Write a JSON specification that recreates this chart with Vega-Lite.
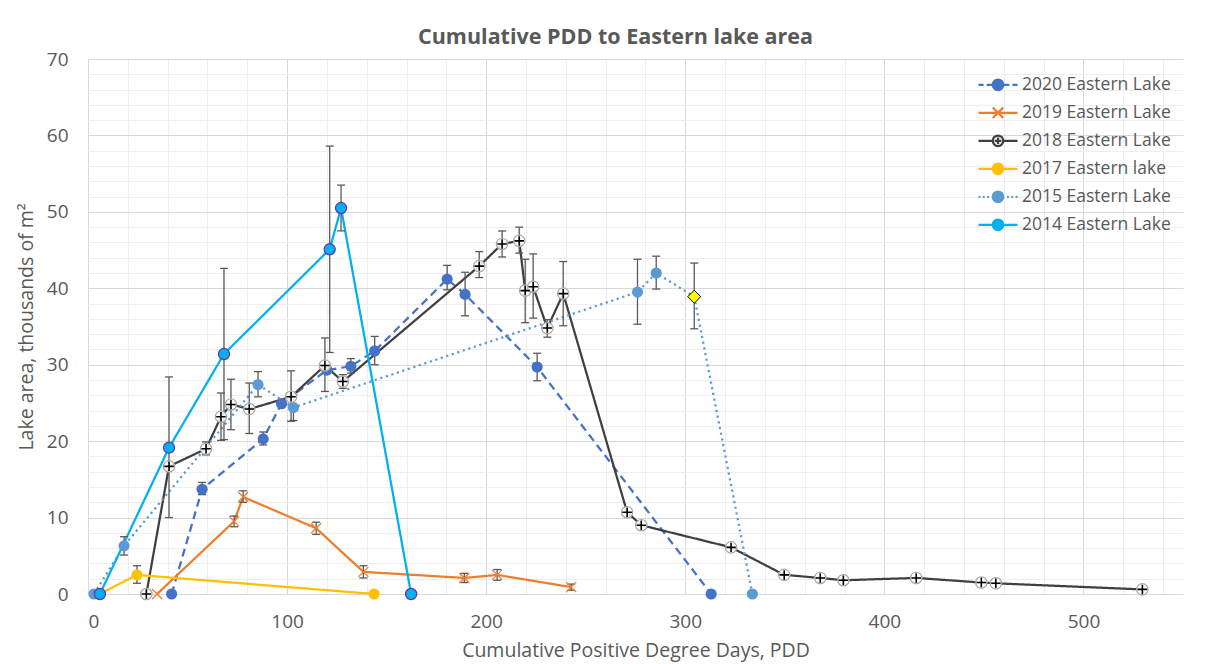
{
  "$schema": "https://vega.github.io/schema/vega-lite/v6.json",
  "width": 1095,
  "height": 535,
  "autosize": {"type": "none"},
  "padding": {"left": 88, "top": 59, "right": 37, "bottom": 70},
  "background": "white",
  "title": {"text": "Cumulative PDD to Eastern lake area", "font": "Open Sans", "fontSize": 21.5, "fontWeight": "bold", "color": "#595959", "offset": 2, "dx": -20},
  "config": {"view": {"stroke": null}, "font": "Open Sans"},
  "datasets": {
    "pts": [
      {"s": "2020 Eastern Lake", "x": 42, "y": 0},
      {"s": "2020 Eastern Lake", "x": 57.3, "y": 13.7, "lo": 13.0, "hi": 14.6},
      {"s": "2020 Eastern Lake", "x": 88, "y": 20.3, "lo": 19.5, "hi": 21.2},
      {"s": "2020 Eastern Lake", "x": 97.2, "y": 24.9},
      {"s": "2020 Eastern Lake", "x": 120, "y": 29.3},
      {"s": "2020 Eastern Lake", "x": 132, "y": 29.8, "lo": 28.9, "hi": 30.8},
      {"s": "2020 Eastern Lake", "x": 144, "y": 31.8, "lo": 30.0, "hi": 33.7},
      {"s": "2020 Eastern Lake", "x": 180.4, "y": 41.2, "lo": 39.8, "hi": 43.0},
      {"s": "2020 Eastern Lake", "x": 189.4, "y": 39.2, "lo": 36.4, "hi": 42.1},
      {"s": "2020 Eastern Lake", "x": 225.6, "y": 29.7, "lo": 27.9, "hi": 31.5},
      {"s": "2020 Eastern Lake", "x": 313, "y": 0},
      {"s": "2019 Eastern Lake", "x": 34.7, "y": 0},
      {"s": "2019 Eastern Lake", "x": 73.4, "y": 9.5, "lo": 8.8, "hi": 10.2},
      {"s": "2019 Eastern Lake", "x": 77.9, "y": 12.7, "lo": 12.0, "hi": 13.5},
      {"s": "2019 Eastern Lake", "x": 114.6, "y": 8.6, "lo": 7.8, "hi": 9.4},
      {"s": "2019 Eastern Lake", "x": 138.3, "y": 2.9, "lo": 2.1, "hi": 3.7},
      {"s": "2019 Eastern Lake", "x": 189, "y": 2.1, "lo": 1.5, "hi": 2.7},
      {"s": "2019 Eastern Lake", "x": 205.5, "y": 2.5, "lo": 1.8, "hi": 3.2},
      {"s": "2019 Eastern Lake", "x": 242.7, "y": 0.9, "lo": 0.5, "hi": 1.3},
      {"s": "2018 Eastern Lake", "x": 29.3, "y": 0},
      {"s": "2018 Eastern Lake", "x": 40.7, "y": 16.7},
      {"s": "2018 Eastern Lake", "x": 59.3, "y": 19.0, "lo": 18.2, "hi": 19.9},
      {"s": "2018 Eastern Lake", "x": 66.8, "y": 23.2, "lo": 20.1, "hi": 26.3},
      {"s": "2018 Eastern Lake", "x": 71.8, "y": 24.8, "lo": 21.5, "hi": 28.1},
      {"s": "2018 Eastern Lake", "x": 81, "y": 24.2, "lo": 21.0, "hi": 27.6},
      {"s": "2018 Eastern Lake", "x": 102, "y": 25.8, "lo": 22.6, "hi": 29.2},
      {"s": "2018 Eastern Lake", "x": 119, "y": 29.9, "lo": 26.5, "hi": 33.5},
      {"s": "2018 Eastern Lake", "x": 128, "y": 27.8, "lo": 26.9, "hi": 28.7},
      {"s": "2018 Eastern Lake", "x": 196.5, "y": 42.9, "lo": 41.4, "hi": 44.8},
      {"s": "2018 Eastern Lake", "x": 208, "y": 45.8, "lo": 44.1, "hi": 47.5},
      {"s": "2018 Eastern Lake", "x": 216.6, "y": 46.2, "lo": 44.6, "hi": 48.0},
      {"s": "2018 Eastern Lake", "x": 219.6, "y": 39.7, "lo": 35.5, "hi": 43.8},
      {"s": "2018 Eastern Lake", "x": 223.6, "y": 40.2, "lo": 36.1, "hi": 44.5},
      {"s": "2018 Eastern Lake", "x": 230.7, "y": 34.8, "lo": 33.6, "hi": 35.9},
      {"s": "2018 Eastern Lake", "x": 238.7, "y": 39.3, "lo": 35.1, "hi": 43.5},
      {"s": "2018 Eastern Lake", "x": 270.8, "y": 10.7},
      {"s": "2018 Eastern Lake", "x": 277.9, "y": 9.0},
      {"s": "2018 Eastern Lake", "x": 323, "y": 6.1},
      {"s": "2018 Eastern Lake", "x": 349.7, "y": 2.5},
      {"s": "2018 Eastern Lake", "x": 367.8, "y": 2.1},
      {"s": "2018 Eastern Lake", "x": 379.4, "y": 1.8},
      {"s": "2018 Eastern Lake", "x": 416, "y": 2.1},
      {"s": "2018 Eastern Lake", "x": 448.7, "y": 1.5},
      {"s": "2018 Eastern Lake", "x": 456, "y": 1.4},
      {"s": "2018 Eastern Lake", "x": 529.6, "y": 0.6},
      {"s": "2017 Eastern lake", "x": 5.8, "y": 0},
      {"s": "2017 Eastern lake", "x": 24.6, "y": 2.5, "lo": 1.4, "hi": 3.7},
      {"s": "2017 Eastern lake", "x": 143.7, "y": 0},
      {"s": "2015 Eastern Lake", "x": 3, "y": 0},
      {"s": "2015 Eastern Lake", "x": 18.1, "y": 6.3, "lo": 5.1, "hi": 7.5},
      {"s": "2015 Eastern Lake", "x": 85.4, "y": 27.4, "lo": 25.8, "hi": 29.1},
      {"s": "2015 Eastern Lake", "x": 103.2, "y": 24.4, "lo": 22.7, "hi": 26.1},
      {"s": "2015 Eastern Lake", "x": 276, "y": 39.5, "lo": 35.3, "hi": 43.8},
      {"s": "2015 Eastern Lake", "x": 285.4, "y": 42.0, "lo": 39.9, "hi": 44.2},
      {"s": "2015 Eastern Lake", "x": 304.5, "y": 38.9, "lo": 34.7, "hi": 43.3},
      {"s": "2015 Eastern Lake", "x": 333.7, "y": 0},
      {"s": "2014 Eastern Lake", "x": 6, "y": 0},
      {"s": "2014 Eastern Lake", "x": 40.7, "y": 19.15, "lo": 10.0, "hi": 28.4},
      {"s": "2014 Eastern Lake", "x": 68.3, "y": 31.4, "lo": 20.2, "hi": 42.6},
      {"s": "2014 Eastern Lake", "x": 121.4, "y": 45.1, "lo": 31.6, "hi": 58.6},
      {"s": "2014 Eastern Lake", "x": 127.1, "y": 50.5, "lo": 47.5, "hi": 53.5},
      {"s": "2014 Eastern Lake", "x": 162.3, "y": 0}
    ]
  },
  "data": {"name": "pts"},
  "resolve": {"axis": {"x": "independent", "y": "independent"}},
  "layer": [
    {
      "mark": {"type": "line", "strokeWidth": 2.25},
      "encoding": {
        "x": {"field": "x", "type": "quantitative", "scale": {"domain": [0, 550], "nice": false},
          "axis": {"orient": "bottom", "values": [20,40,60,80,120,140,160,180,220,240,260,280,320,340,360,380,420,440,460,480,520,540], "grid": true, "gridColor": "#eeeeee", "gridWidth": 1, "labels": false, "ticks": false, "domain": false, "title": null}},
        "y": {"field": "y", "type": "quantitative", "scale": {"domain": [0, 70], "nice": false},
          "axis": {"orient": "left", "values": [2,4,6,8,12,14,16,18,22,24,26,28,32,34,36,38,42,44,46,48,52,54,56,58,62,64,66,68], "grid": true, "gridColor": "#eeeeee", "gridWidth": 1, "labels": false, "ticks": false, "domain": false, "title": null}},
        "color": {"field": "s", "type": "nominal", "scale": {"domain": ["2014 Eastern Lake", "2015 Eastern Lake", "2017 Eastern lake", "2018 Eastern Lake", "2019 Eastern Lake", "2020 Eastern Lake"], "range": ["#00B0F0", "#5B9BD5", "#FFC000", "#404040", "#ED7D31", "#4472C4"]}, "legend": null},
        "strokeDash": {"field": "s", "type": "nominal", "scale": {"domain": ["2014 Eastern Lake", "2015 Eastern Lake", "2017 Eastern lake", "2018 Eastern Lake", "2019 Eastern Lake", "2020 Eastern Lake"], "range": [[1, 0], [2.2, 3.6], [1, 0], [1, 0], [1, 0], [8, 5]]}, "legend": null}
      }
    },
    {
      "transform": [{"filter": "isValid(datum.lo)"}],
      "mark": {"type": "rule", "color": "#595959", "strokeWidth": 1.3},
      "encoding": {
        "x": {"field": "x", "type": "quantitative", "scale": {"domain": [0, 550], "nice": false},
          "axis": {"orient": "bottom", "values": [0, 100, 200, 300, 400, 500], "grid": true, "gridColor": "#d9d9d9", "gridWidth": 1, "ticks": false, "domain": false, "labelFontSize": 19, "labelColor": "#595959", "labelPadding": 18, "title": "Cumulative Positive Degree Days, PDD", "titleFontSize": 19.5, "titleFontWeight": "normal", "titleColor": "#595959", "titlePadding": 10}},
        "y": {"field": "lo", "type": "quantitative", "scale": {"domain": [0, 70], "nice": false},
          "axis": {"orient": "left", "values": [0, 10, 20, 30, 40, 50, 60, 70], "grid": true, "gridColor": "#d9d9d9", "gridWidth": 1, "ticks": false, "domain": false, "labelFontSize": 19, "labelColor": "#595959", "labelPadding": 20, "title": "Lake area, thousands of m²", "titleFontSize": 19.5, "titleFontWeight": "normal", "titleColor": "#595959", "titlePadding": 10}},
        "y2": {"field": "hi"}
      }
    },
    {
      "transform": [{"filter": "isValid(datum.lo)"}],
      "mark": {"type": "tick", "orient": "horizontal", "color": "#595959", "size": 8, "thickness": 1.3, "opacity": 1},
      "encoding": {
        "x": {"field": "x", "type": "quantitative", "scale": {"domain": [0, 550], "nice": false}, "axis": null},
        "y": {"field": "lo", "type": "quantitative", "scale": {"domain": [0, 70], "nice": false}, "axis": null}
      }
    },
    {
      "transform": [{"filter": "isValid(datum.lo)"}],
      "mark": {"type": "tick", "orient": "horizontal", "color": "#595959", "size": 8, "thickness": 1.3, "opacity": 1},
      "encoding": {
        "x": {"field": "x", "type": "quantitative", "scale": {"domain": [0, 550], "nice": false}, "axis": null},
        "y": {"field": "hi", "type": "quantitative", "scale": {"domain": [0, 70], "nice": false}, "axis": null}
      }
    },
    {
      "transform": [{"filter": "datum.s !== '2018 Eastern Lake' && datum.s !== '2019 Eastern Lake' && !(datum.s === '2015 Eastern Lake' && datum.x > 300 && datum.y > 0)"}],
      "mark": {"type": "point", "shape": "circle", "filled": true, "size": 125, "opacity": 1, "strokeWidth": 1.2},
      "encoding": {
        "x": {"field": "x", "type": "quantitative", "scale": {"domain": [0, 550], "nice": false}, "axis": null},
        "y": {"field": "y", "type": "quantitative", "scale": {"domain": [0, 70], "nice": false}, "axis": null},
        "color": {"field": "s", "type": "nominal", "scale": {"domain": ["2014 Eastern Lake", "2015 Eastern Lake", "2017 Eastern lake", "2018 Eastern Lake", "2019 Eastern Lake", "2020 Eastern Lake"], "range": ["#00B0F0", "#5B9BD5", "#FFC000", "#404040", "#ED7D31", "#4472C4"]}, "legend": null},
        "stroke": {"condition": {"test": "datum.s === '2014 Eastern Lake'", "value": "#7030A0"}, "value": "transparent"}
      }
    },
    {
      "transform": [{"filter": "datum.s === '2018 Eastern Lake'"}],
      "mark": {"type": "point", "shape": "circle", "filled": false, "fill": "#ffffff", "fillOpacity": 0.85, "stroke": "#a6a6a6", "strokeWidth": 1.2, "size": 130, "opacity": 1},
      "encoding": {
        "x": {"field": "x", "type": "quantitative", "scale": {"domain": [0, 550], "nice": false}, "axis": null},
        "y": {"field": "y", "type": "quantitative", "scale": {"domain": [0, 70], "nice": false}, "axis": null}
      }
    },
    {
      "transform": [{"filter": "datum.s === '2018 Eastern Lake'"}],
      "mark": {"type": "point", "shape": "M-1,0H1M0,-1V1", "filled": false, "stroke": "#000000", "strokeWidth": 1.6, "size": 90, "opacity": 1},
      "encoding": {
        "x": {"field": "x", "type": "quantitative", "scale": {"domain": [0, 550], "nice": false}, "axis": null},
        "y": {"field": "y", "type": "quantitative", "scale": {"domain": [0, 70], "nice": false}, "axis": null}
      }
    },
    {
      "transform": [{"filter": "datum.s === '2019 Eastern Lake'"}],
      "mark": {"type": "point", "shape": "M-1,-1L1,1M-1,1L1,-1", "filled": false, "stroke": "#ED7D31", "strokeWidth": 1.3, "size": 100, "opacity": 1},
      "encoding": {
        "x": {"field": "x", "type": "quantitative", "scale": {"domain": [0, 550], "nice": false}, "axis": null},
        "y": {"field": "y", "type": "quantitative", "scale": {"domain": [0, 70], "nice": false}, "axis": null}
      }
    },
    {
      "transform": [{"filter": "datum.s === '2015 Eastern Lake' && datum.x > 300 && datum.y > 0"}],
      "mark": {"type": "point", "shape": "diamond", "filled": true, "fill": "#FFFF00", "stroke": "#000000", "strokeWidth": 1, "size": 170, "opacity": 1},
      "encoding": {
        "x": {"field": "x", "type": "quantitative", "scale": {"domain": [0, 550], "nice": false}, "axis": null},
        "y": {"field": "y", "type": "quantitative", "scale": {"domain": [0, 70], "nice": false}, "axis": null}
      }
    },
    {
      "mark": {"type": "point", "filled": true, "opacity": 0},
      "encoding": {
        "x": {"field": "x", "type": "quantitative", "scale": {"domain": [0, 550], "nice": false}, "axis": null},
        "y": {"field": "y", "type": "quantitative", "scale": {"domain": [0, 70], "nice": false}, "axis": null},
        "fill": {"field": "s", "type": "nominal",
          "scale": {"domain": ["2020 Eastern Lake", "2019 Eastern Lake", "2018 Eastern Lake", "2017 Eastern lake", "2015 Eastern Lake", "2014 Eastern Lake"], "range": ["#4472C4", "#ED7D31", "#f2f2f2", "#FFC000", "#5B9BD5", "#00B0F0"]},
          "legend": {"title": null, "orient": "top-right", "offset": 12, "symbolSize": 1521, "symbolStrokeWidth": 2.25, "symbolOpacity": 1, "labelFontSize": 17.5, "labelColor": "#595959", "labelFont": "Open Sans", "labelOffset": 3, "clipHeight": 27.6, "rowPadding": 0, "padding": 0}},
        "stroke": {"field": "s", "type": "nominal",
          "scale": {"domain": ["2020 Eastern Lake", "2019 Eastern Lake", "2018 Eastern Lake", "2017 Eastern lake", "2015 Eastern Lake", "2014 Eastern Lake"], "range": ["#4472C4", "#ED7D31", "#404040", "#FFC000", "#5B9BD5", "#00B0F0"]},
          "legend": {"title": null, "orient": "top-right", "offset": 12, "symbolSize": 1521, "symbolStrokeWidth": 2.25, "symbolOpacity": 1, "labelFontSize": 17.5, "labelColor": "#595959", "labelFont": "Open Sans", "labelOffset": 3, "clipHeight": 27.6, "rowPadding": 0, "padding": 0}},
        "shape": {"field": "s", "type": "nominal",
          "scale": {"domain": ["2020 Eastern Lake", "2019 Eastern Lake", "2018 Eastern Lake", "2017 Eastern lake", "2015 Eastern Lake", "2014 Eastern Lake"],
            "range": [
              "M-1,0H-0.74M-0.58,0H-0.3M-0.27,0A0.27,0.27 0 1,1 0.27,0A0.27,0.27 0 1,1 -0.27,0ZM0.3,0H0.58M0.74,0H1",
              "M-1,0H1M-0.27,-0.27L0.27,0.27M-0.27,0.27L0.27,-0.27",
              "M-1,0H-0.27M0.27,0H1M-0.27,0A0.27,0.27 0 1,1 0.27,0A0.27,0.27 0 1,1 -0.27,0ZM-0.17,0H0.17M0,-0.17V0.17",
              "M-1,0H-0.27M0.27,0H1M-0.27,0A0.27,0.27 0 1,1 0.27,0A0.27,0.27 0 1,1 -0.27,0Z",
              "M-1,0H-0.9M-0.78,0H-0.68M-0.56,0H-0.46M-0.27,0A0.27,0.27 0 1,1 0.27,0A0.27,0.27 0 1,1 -0.27,0ZM0.46,0H0.56M0.68,0H0.78M0.9,0H1",
              "M-1,0H-0.27M0.27,0H1M-0.27,0A0.27,0.27 0 1,1 0.27,0A0.27,0.27 0 1,1 -0.27,0Z"
            ]},
          "legend": {"title": null, "orient": "top-right", "offset": 12, "symbolSize": 1521, "symbolStrokeWidth": 2.25, "symbolOpacity": 1, "labelFontSize": 17.5, "labelColor": "#595959", "labelFont": "Open Sans", "labelOffset": 3, "clipHeight": 27.6, "rowPadding": 0, "padding": 0}}
      }
    }
  ]
}
